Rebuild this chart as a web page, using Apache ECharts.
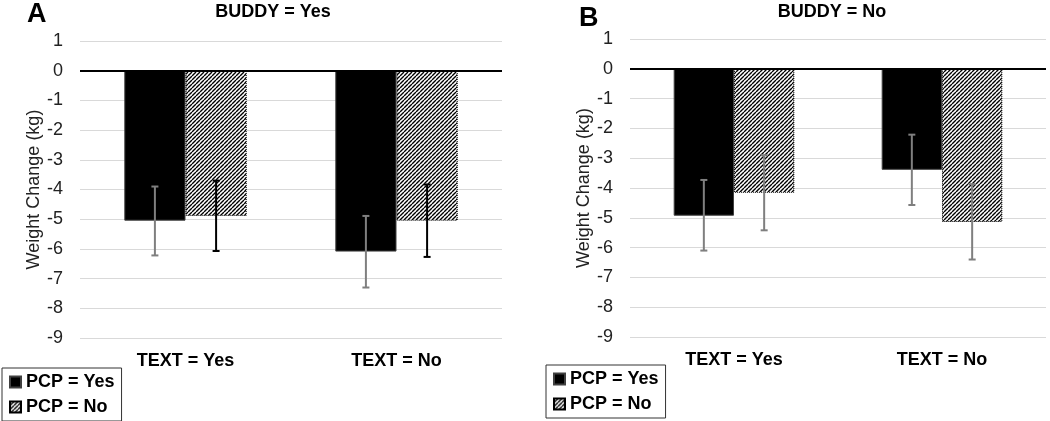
<!DOCTYPE html>
<html>
<head>
<meta charset="utf-8">
<script src="https://cdn.jsdelivr.net/npm/echarts@6/dist/echarts.min.js"></script>
<style>
html,body{margin:0;padding:0;background:#fff;}
#chart{width:1050px;height:421px;}
</style>
</head>
<body>
<div id="chart"></div>
<script>
// ---- data ----
const categories = ['TEXT = Yes', 'TEXT = No'];
const seriesNames = ['PCP = Yes', 'PCP = No'];
const yMin = -9, yMax = 1, yStep = 1;

// Panel A: BUDDY = Yes
const A_pcpYes = [-5.05, -6.09];
const A_pcpYesLow = [-6.22, -7.30];
const A_pcpYesHigh = [-3.90, -4.89];
const A_pcpNo = [-4.89, -5.05];
const A_pcpNoLow = [-6.07, -6.27];
const A_pcpNoHigh = [-3.70, -3.83];

// Panel B: BUDDY = No
const B_pcpYes = [-4.93, -3.39];
const B_pcpYesLow = [-6.10, -4.57];
const B_pcpYesHigh = [-3.73, -2.21];
const B_pcpNo = [-4.16, -5.14];
const B_pcpNoLow = [-5.42, -6.40];
const B_pcpNoHigh = [-2.90, -3.87];

const panelTitles = ['BUDDY = Yes', 'BUDDY = No'];
const panelLetters = ['A', 'B'];
const yAxisName = 'Weight Change (kg)';

// ---- styles ----
const GAP = 0.42;
function makeHatch() {
  const s = 4;
  const c = document.createElement('canvas');
  c.width = s; c.height = s;
  const g = c.getContext('2d');
  g.fillStyle = '#fff'; g.fillRect(0, 0, s, s);
  g.strokeStyle = '#000'; g.lineWidth = 1.4;
  g.beginPath();
  for (let k = -s; k <= s; k += s) { g.moveTo(k, s); g.lineTo(k + s, 0); }
  g.stroke();
  return c;
}
const hatch = { image: makeHatch(), repeat: 'repeat' };

function errData(lo, hi) { return categories.map((c, i) => [i, lo[i], hi[i]]); }

function errSeries(idx, side, lo, hi, color) {
  return {
    type: 'custom', xAxisIndex: idx, yAxisIndex: idx, z: 5, silent: true,
    name: 'err' + idx + side,
    data: errData(lo, hi),
    renderItem: function (params, api) {
      const catW = api.size([1, 0])[0];
      const barW = catW * (1 - GAP) / 2;
      const off = side * barW / 2;
      const p1 = api.coord([api.value(0), api.value(2)]);
      const p2 = api.coord([api.value(0), api.value(1)]);
      const x = p1[0] + off;
      const st = { stroke: color, lineWidth: 2 };
      return {
        type: 'group', children: [
          { type: 'line', shape: { x1: x, y1: p1[1], x2: x, y2: p2[1] }, style: st },
          { type: 'line', shape: { x1: x - 3.5, y1: p1[1], x2: x + 3.5, y2: p1[1] }, style: st },
          { type: 'line', shape: { x1: x - 3.5, y1: p2[1], x2: x + 3.5, y2: p2[1] }, style: st }
        ]
      };
    }
  };
}

function barSeries(idx, name, data, hatched, withZero) {
  const s = {
    type: 'bar', name: name, xAxisIndex: idx, yAxisIndex: idx,
    data: data, barGap: '0%', barCategoryGap: (GAP * 100) + '%',
    itemStyle: hatched
      ? { color: hatch, borderColor: '#000', borderWidth: 1, borderType: 'dotted' }
      : { color: '#000', borderColor: '#404040', borderWidth: 1 },
    silent: true
  };
  if (withZero) {
    s.markLine = {
      silent: true, symbol: 'none', label: { show: false },
      lineStyle: { color: '#000', width: 2, type: 'solid' },
      data: [{ yAxis: 0 }]
    };
  }
  return s;
}

const grids = [
  { left: 80, width: 422, top: 41, height: 297 },
  { left: 630, width: 416, top: 39, height: 298 }
];

const xAxes = grids.map((g, i) => ({
  type: 'category', gridIndex: i, data: categories,
  axisLine: { show: false, onZero: false }, axisTick: { show: false },
  axisLabel: { color: '#000', fontSize: 18, fontWeight: 'bold', fontFamily: 'Liberation Sans, Arial', margin: 14 }
}));

const yAxes = grids.map((g, i) => ({
  type: 'value', gridIndex: i, min: yMin, max: yMax, interval: yStep,
  name: yAxisName, nameLocation: 'middle', nameGap: 37,
  nameTextStyle: { color: '#222', fontSize: 18, fontFamily: 'Liberation Sans, Arial' },
  axisLine: { show: false }, axisTick: { show: false },
  axisLabel: { color: '#222', fontSize: 18, fontFamily: 'Liberation Sans, Arial', margin: 17 },
  splitLine: { lineStyle: { color: '#d9d9d9', width: 1 } }
}));

const legendCommon = {
  data: seriesNames, orient: 'vertical', selectedMode: false,
  itemWidth: 11, itemHeight: 11, itemGap: 7, itemTextGap: 3, icon: 'rect',
  padding: [5, 7, 5, 7], borderColor: '#333', borderWidth: 1,
  textStyle: { color: '#000', fontSize: 18, fontWeight: 'bold', fontFamily: 'Liberation Sans, Arial' }
};

const option = {
  animation: false,
  backgroundColor: '#fff',
  grid: grids,
  xAxis: xAxes,
  yAxis: yAxes,
  legend: [
    Object.assign({}, legendCommon, { left: 2, top: 368 }),
    Object.assign({}, legendCommon, { left: 546, top: 365 })
  ],
  graphic: [
    { type: 'text', left: 27, top: 1, style: { text: panelLetters[0], font: 'bold 27px Liberation Sans, Arial', fill: '#000' } },
    { type: 'text', left: 579, top: 5, style: { text: panelLetters[1], font: 'bold 27px Liberation Sans, Arial', fill: '#000' } },
    { type: 'text', x: 273, y: 12, style: { text: panelTitles[0], font: 'bold 18px Liberation Sans, Arial', fill: '#000', align: 'center', verticalAlign: 'middle' } },
    { type: 'text', x: 832, y: 12, style: { text: panelTitles[1], font: 'bold 18px Liberation Sans, Arial', fill: '#000', align: 'center', verticalAlign: 'middle' } }
  ],
  series: [
    barSeries(0, seriesNames[0], A_pcpYes, false, true),
    barSeries(0, seriesNames[1], A_pcpNo, true, false),
    barSeries(1, seriesNames[0], B_pcpYes, false, true),
    barSeries(1, seriesNames[1], B_pcpNo, true, false),
    errSeries(0, -1, A_pcpYesLow, A_pcpYesHigh, '#7f7f7f'),
    errSeries(0, 1, A_pcpNoLow, A_pcpNoHigh, '#000'),
    errSeries(1, -1, B_pcpYesLow, B_pcpYesHigh, '#7f7f7f'),
    errSeries(1, 1, B_pcpNoLow, B_pcpNoHigh, '#7f7f7f')
  ]
};

const chart = echarts.init(document.getElementById('chart'), null, { renderer: 'canvas' });
chart.setOption(option);
</script>
</body>
</html>
